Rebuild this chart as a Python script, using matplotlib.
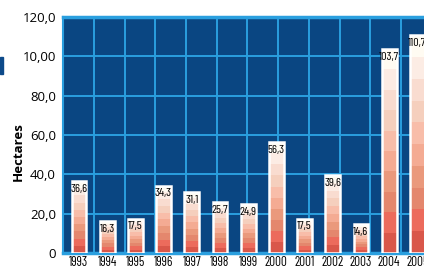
import numpy as np
import matplotlib.pyplot as plt
from matplotlib.patches import Rectangle

# datos
anios = ['1993', '1994', '1995', '1996', '1997', '1998', '1999',
         '2000', '2001', '2002', '2003', '2004', '2005']
hectareas = [36.6, 16.3, 17.5, 34.3, 31.1, 25.7, 24.9,
             56.3, 17.5, 39.6, 14.6, 103.7, 110.7]
etiquetas = ['36,6', '16,3', '17,5', '34,3', '31,1', '25,7', '24,9',
             '56,3', '17,5', '39,6', '14,6', '103,7', '110,7']
yticks = [0, 20, 40, 60, 80, 100, 120]
ytick_labels = ['0', '20,0', '40,0', '60,0', '80,0', '10,00', '120,0']

# degradado de abajo hacia arriba
bandas = ['#d9574a', '#ec6b5c', '#e4876d', '#ea997c', '#f4ab93',
          '#f8bda9', '#f5cfbd', '#f9dcd0', '#fcece4', '#fffbf2']

fondo = '#0a4682'
celeste = '#2a9fdf'
narrow = ['Barlow Condensed', 'Archivo Narrow', 'Liberation Sans Narrow', 'DejaVu Sans']
normal = ['Open Sans', 'Noto Sans', 'DejaVu Sans']

W, H = 424, 269
fig = plt.figure(figsize=(W / 100, H / 100), dpi=100)

# geometria en pixeles
x0_px, paso_px = 79, 28.2
left_px, top_px, bottom_px = 63, 17, 253
xmin = (left_px - x0_px) / paso_px
xmax = 12.7
ax_w = (xmax - xmin) * paso_px
ax = fig.add_axes([left_px / W, (H - bottom_px) / H, ax_w / W,
                   (bottom_px - top_px) / H])
ax.set_facecolor(fondo)
ax.set_xlim(xmin, xmax)
ax.set_ylim(0, 120)

x = np.arange(len(anios))
n = len(bandas)
for k, c in enumerate(bandas):
    alto = np.array(hectareas) / n
    ax.bar(x, alto, bottom=alto * k, width=0.52, color=c, linewidth=0, zorder=3)
ax.bar(x, hectareas, width=0.52, fill=False, edgecolor='white', linewidth=1.8, zorder=4)

for xi, v, t in zip(x, hectareas, etiquetas):
    ax.annotate(t, (xi, v), xytext=(0, -2), textcoords='offset points',
                ha='center', va='top', fontsize=8.8, family=narrow,
                color='black', zorder=5)

# rejilla
paso_grid = 30.75 / paso_px
ax.set_xticks(xmin + paso_grid * np.arange(1, 13), minor=True)
ax.set_xticks(x)
ax.set_xticklabels(anios, family=narrow, fontsize=9.5)
ax.set_yticks(yticks)
ax.set_yticklabels(ytick_labels, fontsize=9.5, family=normal)
ax.grid(True, which='minor', axis='x', color=celeste, linewidth=1.4)
ax.grid(True, which='major', axis='y', color=celeste, linewidth=1.4)
ax.set_axisbelow(True)
ax.tick_params(axis='x', which='both', length=0, pad=2.5)
ax.tick_params(axis='y', length=0, pad=5)

for s in ['top', 'bottom']:
    ax.spines[s].set_color(celeste)
    ax.spines[s].set_linewidth(2.5)
ax.spines['left'].set_color(celeste)
ax.spines['left'].set_linewidth(1.5)
ax.spines['right'].set_visible(False)

fig.text(18 / W, 1 - 152 / H, 'Hectares', rotation=90, ha='center', va='center',
         fontsize=9.5, fontweight='bold', family=normal)

# marca recortada a la izquierda
fig.patches.append(Rectangle((0, 1 - 74 / H), 3 / W, 17 / H,
                             transform=fig.transFigure, color='#0d4a8a'))

fig.savefig('out.png', dpi=100)
